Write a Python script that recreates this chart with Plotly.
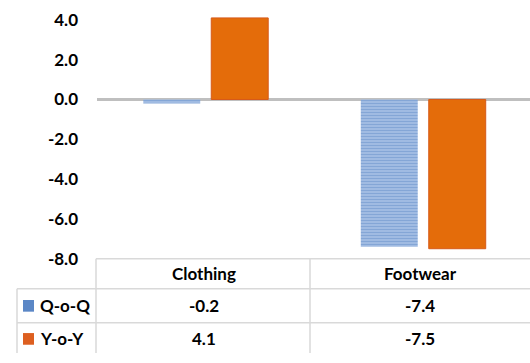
import plotly.graph_objects as go

# Data
categories = ["Clothing", "Footwear"]
series_names = ["Q-o-Q", "Y-o-Y"]
qoq_values = [-0.2, -7.4]
yoy_values = [4.1, -7.5]
y_ticks = [-8, -6, -4, -2, 0, 2, 4]

W, H = 530, 363
FONT = "Lato"
FS = 17

def px_x(x):
    return x / W

def px_y(y):
    return 1 - y / H

blue_fg = "#5B87C6"
blue_bg = "#ADC5E7"
orange = "#E46C0A"

fig = go.Figure()
fig.add_trace(go.Bar(
    x=categories, y=qoq_values, name=series_names[0],
    marker=dict(color=blue_bg,
                pattern=dict(shape="-", fgcolor=blue_fg, bgcolor=blue_bg,
                             size=3, solidity=0.55),
                line=dict(width=0)),
))
fig.add_trace(go.Bar(
    x=categories, y=yoy_values, name=series_names[1],
    marker=dict(color=orange, line=dict(color="#D65A1A", width=1)),
))

plot_left, plot_bottom = 97, 266
cat_px = 217.5
x_span = (W - plot_left) / cat_px

bold = dict(family=FONT, size=FS, color="#000000", weight="bold")

fig.update_layout(
    width=W, height=H,
    margin=dict(l=0, r=0, t=0, b=0),
    paper_bgcolor="white", plot_bgcolor="white",
    showlegend=False,
    barmode="group", bargap=0.375, bargroupgap=0.162,
    font=dict(family=FONT, size=FS, color="#000000"),
    xaxis=dict(domain=[px_x(plot_left), 1], range=[-0.5, -0.5 + x_span],
               showticklabels=False, showgrid=False, zeroline=False,
               showline=False, ticks=""),
    yaxis=dict(domain=[px_y(plot_bottom), 1], range=[-8, 5],
               tickvals=y_ticks, ticktext=[f"{v:.1f}" for v in y_ticks],
               tickfont=bold,
               showgrid=False, zeroline=True, zerolinecolor="#BFBFBF",
               zerolinewidth=3, showline=False, ticks="",
               ticklabelstandoff=18),
)

# Data table below the plot
grid = dict(color="#D9D9D9", width=1.5)
row_lines = [266, 297, 332]
col_lines = [96, 310]
shapes = []
shapes.append(dict(type="line", xref="paper", yref="paper",
                   x0=px_x(96), x1=1, y0=px_y(266), y1=px_y(266), line=grid))
for yl in row_lines[1:]:
    shapes.append(dict(type="line", xref="paper", yref="paper",
                       x0=px_x(17), x1=1, y0=px_y(yl), y1=px_y(yl), line=grid))
for xl in col_lines:
    shapes.append(dict(type="line", xref="paper", yref="paper",
                       x0=px_x(xl), x1=px_x(xl), y0=px_y(266), y1=0, line=grid))
shapes.append(dict(type="line", xref="paper", yref="paper",
                   x0=px_x(17), x1=px_x(17), y0=px_y(297), y1=0, line=grid))

# legend keys in the row headers
key_colors = [blue_fg, "#DD5F20"]
row_centers = [314.5, 348.5]
for yc, kc in zip(row_centers, key_colors):
    shapes.append(dict(type="rect", xref="paper", yref="paper",
                       x0=px_x(23), x1=px_x(34), y0=px_y(yc + 6), y1=px_y(yc - 6),
                       fillcolor=kc, line=dict(width=0)))
fig.update_layout(shapes=shapes)

annotations = []
col_centers = [204, 420]
for cx, cat in zip(col_centers, categories):
    annotations.append(dict(xref="paper", yref="paper", x=px_x(cx), y=px_y(281.5),
                            text=cat, showarrow=False, font=bold,
                            xanchor="center", yanchor="middle"))
for yc, name, vals in zip(row_centers, series_names, [qoq_values, yoy_values]):
    annotations.append(dict(xref="paper", yref="paper", x=px_x(38), y=px_y(yc),
                            text=name, showarrow=False, font=bold,
                            xanchor="left", yanchor="middle"))
    for cx, v in zip(col_centers, vals):
        annotations.append(dict(xref="paper", yref="paper", x=px_x(cx), y=px_y(yc),
                                text=f"{v:.1f}", showarrow=False, font=bold,
                                xanchor="center", yanchor="middle"))
fig.update_layout(annotations=annotations)

fig.write_html("out.html")
